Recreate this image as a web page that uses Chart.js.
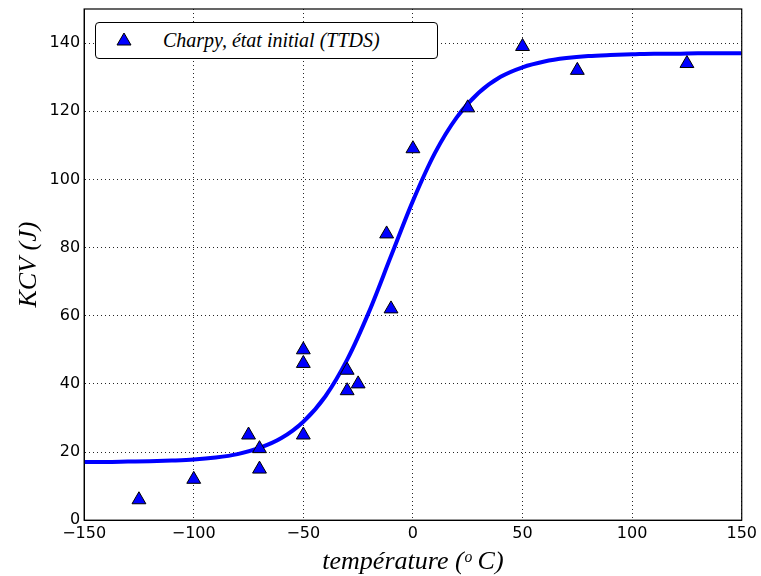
<!DOCTYPE html>
<html>
<head>
<meta charset="utf-8">
<script src="https://cdn.jsdelivr.net/npm/chart.js@4.4.1/dist/chart.umd.min.js"></script>
<style>
    html, body { margin: 0; padding: 0; background: #fff; }
    #wrap { position: relative; width: 761px; height: 576px; }
    #legendBox {
        position: absolute; left: 95px; top: 22px; width: 341px; height: 35px;
        border: 1px solid #000; border-radius: 4px; background: #fff;
        font-family: 'Liberation Serif', 'DejaVu Serif', serif; font-style: italic;
        font-size: 20px; color: #000;
    }
    #legendBox svg { position: absolute; left: 19px; top: 9px; }
    #legendBox span { position: absolute; left: 67px; top: 6px; white-space: nowrap; }
</style>
</head>
<body>
<div id="wrap">
    <canvas id="charpyChart" width="761" height="576"></canvas>
    <div id="legendBox">
        <svg width="18" height="16"><polygon points="9,1 16,13 2,13" fill="#0000ff" stroke="#000" stroke-width="1"/></svg>
        <span>Charpy, état initial (TTDS)</span>
    </div>
</div>
<script>
// measured points
const tempX = [-125, -100, -75, -70, -70, -50, -50, -50, -30, -30, -25, -12, -10, 0, 25, 50, 75, 125];
const kcvY  = [6, 12, 25, 21, 15, 50, 46, 25, 44, 38, 40, 84, 62, 109, 121, 139, 132, 134];

// fitted curve
const curveX = [-150, -140, -130, -120, -110, -100, -90, -80, -70, -60, -50, -40, -30, -20, -10,
                0, 10, 20, 30, 40, 50, 60, 70, 80, 90, 100, 110, 120, 130, 140, 150];
const curveY = [17.1, 17.1, 17.2, 17.3, 17.5, 17.8, 18.4, 19.4, 21.2, 24.1, 28.9, 36.3, 47.1, 61.2, 77.5,
                93.7, 107.7, 118.2, 125.4, 130.1, 132.9, 134.6, 135.6, 136.2, 136.5, 136.7, 136.9, 136.9, 137.0, 137.0, 137.0];

const xTicks = [-150, -100, -50, 0, 50, 100, 150];
const yTicks = [0, 20, 40, 60, 80, 100, 120, 140];

const framePlugin = {
    id: 'frame',
    afterDatasetsDraw(chart) {
        const a = chart.chartArea, ctx = chart.ctx;
        ctx.save();
        ctx.strokeStyle = '#000';
        ctx.lineWidth = 1.2;
        ctx.strokeRect(a.left, a.top, a.right - a.left, a.bottom - a.top);
        ctx.restore();
    }
};

const tickFont = { family: "'DejaVu Sans', sans-serif", size: 16 };
const titleFont = { family: "'Liberation Serif', 'DejaVu Serif', serif", size: 26, style: 'italic', lineHeight: 1.1 };
const dotted = { color: 'rgba(0,0,0,0.85)', lineWidth: 1, drawTicks: false };

new Chart(document.getElementById('charpyChart'), {
    type: 'scatter',
    data: {
        datasets: [{
            label: 'Charpy, état initial (TTDS)',
            data: tempX.map((x, i) => ({ x: x, y: kcvY[i] })),
            pointStyle: 'triangle',
            pointRadius: 8,
            pointHoverRadius: 8,
            backgroundColor: '#0000ff',
            borderColor: '#000',
            borderWidth: 1,
            order: 0
        }, {
            label: 'fit',
            data: curveX.map((x, i) => ({ x: x, y: curveY[i] })),
            showLine: true,
            borderColor: '#0000ff',
            borderWidth: 4,
            pointRadius: 0,
            cubicInterpolationMode: 'monotone',
            order: 1
        }]
    },
    options: {
        responsive: false,
        animation: false,
        layout: { padding: { top: 9, right: 19, left: 15, bottom: 0 } },
        plugins: { legend: { display: false }, tooltip: { enabled: false } },
        scales: {
            x: {
                type: 'linear', min: -150, max: 150,
                afterBuildTicks: s => { s.ticks = xTicks.map(v => ({ value: v })); },
                grid: dotted,
                border: { display: true, color: '#000', dash: [1, 3] },
                ticks: {
                    color: '#000', font: tickFont, padding: 4, maxRotation: 0,
                    callback: v => String(v).replace('-', '\u2212')
                },
                title: { display: true, text: 'température (ᵒ C)', color: '#000', font: titleFont, padding: { top: 0, bottom: 0 } }
            },
            y: {
                type: 'linear', min: 0, max: 150,
                afterBuildTicks: s => { s.ticks = yTicks.map(v => ({ value: v })); },
                afterFit: s => { s.paddingTop = 0; },
                grid: dotted,
                border: { display: true, color: '#000', dash: [1, 3] },
                ticks: { color: '#000', font: tickFont, padding: 4 },
                title: { display: true, text: 'KCV (J)', color: '#000', font: titleFont, padding: { top: 0, bottom: 2 } }
            }
        }
    },
    plugins: [framePlugin]
});
</script>
</body>
</html>
